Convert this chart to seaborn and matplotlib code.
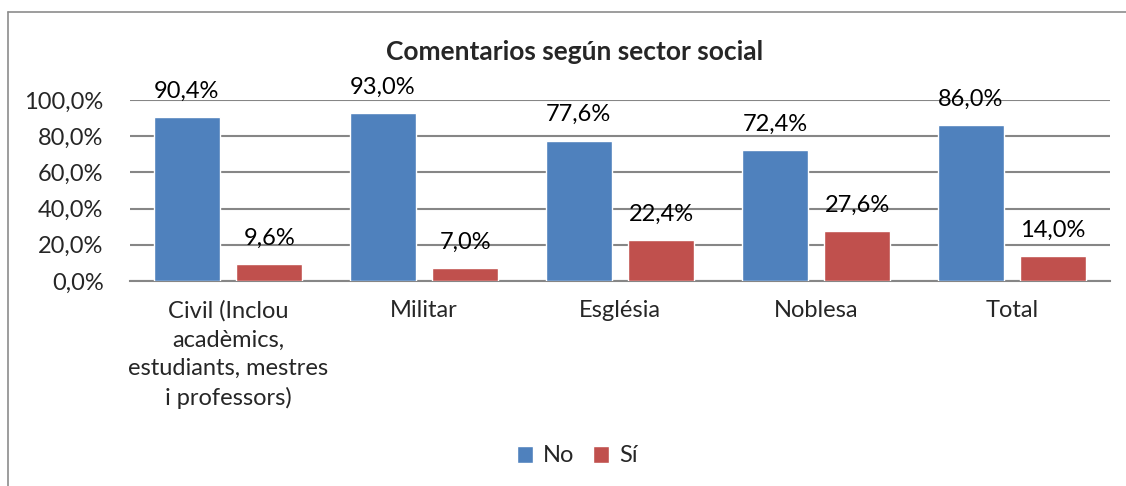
import pandas as pd
import matplotlib
matplotlib.use("Agg")
import matplotlib.pyplot as plt
import seaborn as sns
from matplotlib.lines import Line2D

# ── Data ────────────────────────────────────────────────────────────
sectors = [
    "Civil (Inclou\nacadèmics,\nestudiants, mestres\ni professors)",
    "Militar",
    "Església",
    "Noblesa",
    "Total",
]
no_vals = [0.904, 0.930, 0.776, 0.724, 0.860]
si_vals = [0.096, 0.070, 0.224, 0.276, 0.140]
series = ["No", "Sí"]
colors = ["#4F81BD", "#C0504D"]

df = pd.DataFrame({
    "sector": sectors * 2,
    "resp": [series[0]] * len(sectors) + [series[1]] * len(sectors),
    "pct": no_vals + si_vals,
})

# ── Style ───────────────────────────────────────────────────────────
sns.set_style("white")
plt.rcParams["font.family"] = ["Lato", "DejaVu Sans"]

W, H = 1126, 486
fig = plt.figure(figsize=(W / 100, H / 100), dpi=100)
ax = fig.add_axes([130 / W, 1 - 281 / H, 980 / W, 181 / H])

sns.barplot(data=df, x="sector", y="pct", hue="resp", palette=colors,
            width=0.84, gap=0.2, saturation=1, ax=ax, zorder=3)

for cont in ax.containers:
    ax.bar_label(cont, labels=[f"{b.get_height()*100:.1f}%".replace(".", ",") for b in cont],
                 padding=11, fontsize=17, color="#000000")

ax.set_ylim(0, 1.0)
ax.set_yticks([0, 0.2, 0.4, 0.6, 0.8, 1.0])
ax.set_yticklabels([f"{v*100:.1f}%".replace(".", ",") for v in ax.get_yticks()], fontsize=17)
ax.tick_params(axis="x", labelsize=17, pad=14, length=0)
ax.tick_params(axis="y", length=0, pad=19)
for lbl in ax.get_xticklabels():
    lbl.set_linespacing(1.45)
ax.set_xlabel("")
ax.set_ylabel("")
ax.yaxis.grid(True, color="#868686", lw=1.5, zorder=0)
ax.set_axisbelow(True)
for s in ["top", "right", "left"]:
    ax.spines[s].set_visible(False)
ax.spines["bottom"].set_color("#868686")
ax.spines["bottom"].set_linewidth(1.5)
ax.set_xlim(-0.5, len(sectors) - 0.5)

# legend at the bottom
handles, labels = ax.get_legend_handles_labels()
ax.get_legend().remove()
fig.legend(handles, labels, loc="center", bbox_to_anchor=(577 / W, 1 - 456 / H),
           ncol=2, frameon=False, fontsize=17, handlelength=0.7, handleheight=0.7,
           handletextpad=0.4, columnspacing=0.8)

fig.text(575 / W, 1 - 52 / H, "Comentarios según sector social",
         ha="center", va="center", fontsize=19, fontweight="bold")

# chart frame (top and left edges visible)
fig.add_artist(Line2D([8 / W, 1], [1 - 12 / H, 1 - 12 / H], transform=fig.transFigure,
                      color="#8c8c8c", lw=1.2))
fig.add_artist(Line2D([8 / W, 8 / W], [0, 1 - 12 / H], transform=fig.transFigure,
                      color="#8c8c8c", lw=1.2))

fig.savefig("out.png", dpi=100, facecolor="white")
